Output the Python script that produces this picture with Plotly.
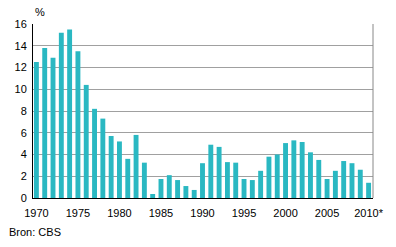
import plotly.graph_objects as go

years = list(range(1970, 2011))
values = [12.5, 13.8, 12.9, 15.2, 15.5, 13.5, 10.4, 8.2, 7.3, 5.7,
          5.2, 3.6, 5.8, 3.25, 0.37, 1.75, 2.1, 1.65, 1.1, 0.74,
          3.2, 4.9, 4.7, 3.3, 3.25, 1.75, 1.65, 2.5, 3.8, 4.0,
          5.05, 5.3, 5.15, 4.2, 3.5, 1.75, 2.5, 3.4, 3.2, 2.6, 1.4]
tick_years = [1970, 1975, 1980, 1985, 1990, 1995, 2000, 2005, 2010]
tick_labels = ["1970", "1975", "1980", "1985", "1990", "1995", "2000", "2005", "2010*"]
y_ticks = [0, 2, 4, 6, 8, 10, 12, 14, 16]

FONT = "Liberation Sans, Arial, sans-serif"

fig = go.Figure(go.Bar(x=years, y=values, width=0.59,
                       marker=dict(color="#2AB8C2", line=dict(width=0))))

fig.update_layout(
    width=396, height=247,
    margin=dict(l=33, r=14, t=24, b=49),
    plot_bgcolor="white", paper_bgcolor="white",
    font=dict(family=FONT, size=11, color="#000"),
    showlegend=False,
    xaxis=dict(range=[1969.59, 2010.53], tickvals=tick_years, ticktext=tick_labels,
               showgrid=False, showline=True, linecolor="#000", linewidth=1,
               ticks="", zeroline=False, tickfont=dict(size=11), ticklabelstandoff=5),
    yaxis=dict(range=[0, 16], tickvals=y_ticks, showgrid=True, gridcolor="#A0A0A0",
               gridwidth=1, showline=True, linecolor="#000", linewidth=1,
               ticks="", zeroline=False, tickfont=dict(size=11), ticklabelstandoff=3),
    shapes=[dict(type="line", xref="paper", yref="paper", x0=1, x1=1, y0=0, y1=1,
                 line=dict(color="#888", width=1))],
    annotations=[
        dict(text="%", xref="paper", yref="paper", x=0, y=1, xshift=0, yshift=4,
             xanchor="left", yanchor="bottom", showarrow=False, font=dict(size=11)),
        dict(text="Bron: CBS", xref="paper", yref="paper", x=0, y=0, xshift=-26, yshift=-42,
             xanchor="left", yanchor="bottom", showarrow=False, font=dict(size=11)),
    ],
)

fig.write_html("out.html")
